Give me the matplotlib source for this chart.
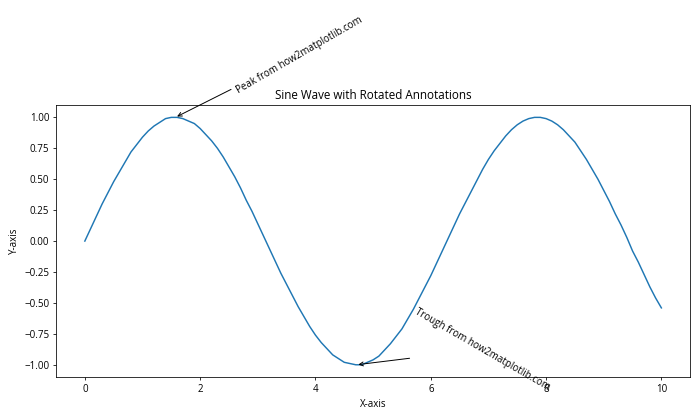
import matplotlib
matplotlib.use('Agg')
from matplotlib import pyplot as plt

plt.rcParams['font.family'] = ['Open Sans', 'DejaVu Sans']

# values
x_vals = [0.0, 0.1, 0.2, 0.3, 0.4, 0.5, 0.6, 0.7, 0.8, 0.9,
          1.0, 1.1, 1.2, 1.3, 1.4, 1.5, 1.6, 1.7, 1.8, 1.9,
          2.0, 2.1, 2.2, 2.3, 2.4, 2.5, 2.6, 2.7, 2.8, 2.9,
          3.0, 3.1, 3.2, 3.3, 3.4, 3.5, 3.6, 3.7, 3.8, 3.9,
          4.0, 4.1, 4.2, 4.3, 4.4, 4.5, 4.6, 4.7, 4.8, 4.9,
          5.0, 5.1, 5.2, 5.3, 5.4, 5.5, 5.6, 5.7, 5.8, 5.9,
          6.0, 6.1, 6.2, 6.3, 6.4, 6.5, 6.6, 6.7, 6.8, 6.9,
          7.0, 7.1, 7.2, 7.3, 7.4, 7.5, 7.6, 7.7, 7.8, 7.9,
          8.0, 8.1, 8.2, 8.3, 8.4, 8.5, 8.6, 8.7, 8.8, 8.9,
          9.0, 9.1, 9.2, 9.3, 9.4, 9.5, 9.6, 9.7, 9.8, 9.9,
          10.0]
y_vals = [0.00, 0.10, 0.20, 0.30, 0.39, 0.48, 0.56, 0.64, 0.72, 0.78,
          0.84, 0.89, 0.93, 0.96, 0.99, 1.00, 1.00, 0.99, 0.97, 0.95,
          0.91, 0.86, 0.81, 0.75, 0.68, 0.60, 0.52, 0.43, 0.33, 0.24,
          0.14, 0.04, -0.06, -0.16, -0.26, -0.35, -0.44, -0.53, -0.61, -0.69,
          -0.76, -0.82, -0.87, -0.92, -0.95, -0.98, -0.99, -1.00, -1.00, -0.98,
          -0.96, -0.93, -0.88, -0.83, -0.77, -0.71, -0.63, -0.55, -0.46, -0.37,
          -0.28, -0.18, -0.08, 0.02, 0.12, 0.22, 0.31, 0.40, 0.49, 0.58,
          0.66, 0.73, 0.79, 0.85, 0.90, 0.94, 0.97, 0.99, 1.00, 1.00,
          0.99, 0.97, 0.94, 0.90, 0.85, 0.80, 0.73, 0.66, 0.58, 0.50,
          0.41, 0.32, 0.22, 0.13, 0.03, -0.08, -0.17, -0.27, -0.37, -0.46,
          -0.54]

peak_xy = (1.57, 1.0)
trough_xy = (4.71, -1.0)
peak_label = 'Peak from how2matplotlib.com'
trough_label = 'Trough from how2matplotlib.com'

fig, ax = plt.subplots(figsize=(10, 6), dpi=70)
fig.subplots_adjust(left=0.08, right=0.986, top=0.75, bottom=0.102)

ax.plot(x_vals, y_vals)

ax.annotate(peak_label, xy=peak_xy, xytext=(2.6, 1.2), rotation=30,
            arrowprops=dict(arrowstyle='->', color='black'))
ax.annotate(trough_label, xy=trough_xy, xytext=(5.7, -1.2), rotation=-30,
            arrowprops=dict(arrowstyle='->', color='black'))

ax.set_title('Sine Wave with Rotated Annotations')
ax.set_xlabel('X-axis')
ax.set_ylabel('Y-axis')

fig.savefig('out.png')
